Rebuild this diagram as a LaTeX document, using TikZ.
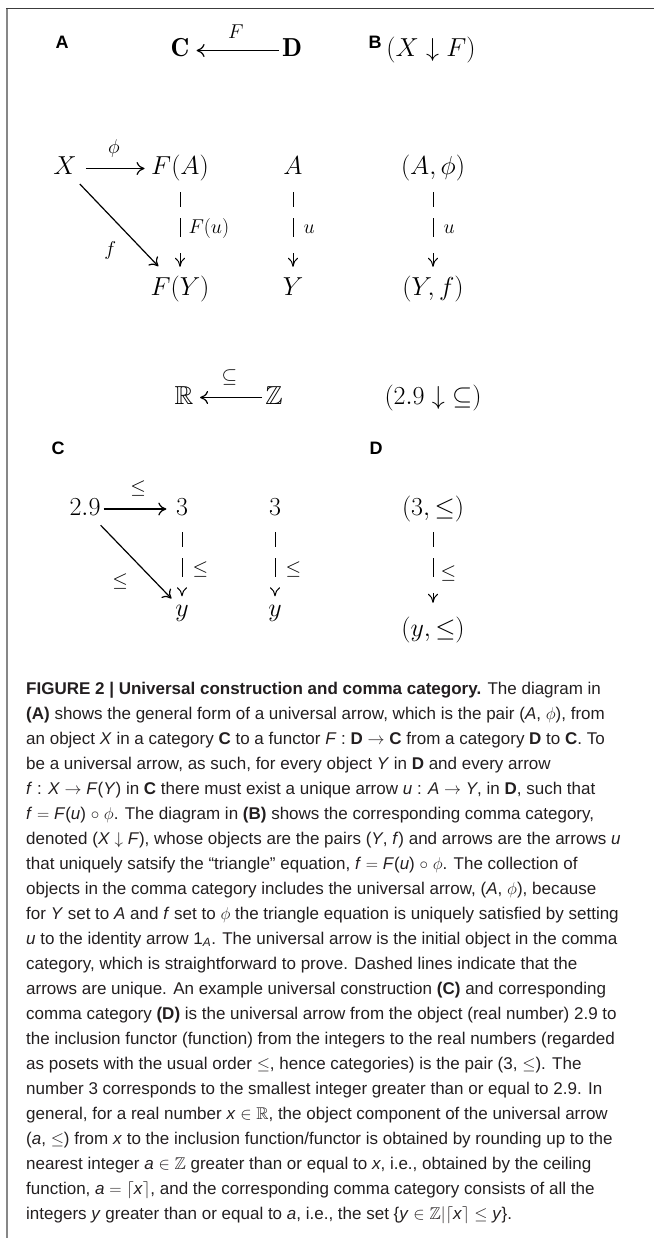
\documentclass[tikz,border=0pt]{standalone}
\usepackage{fix-cm}
\usepackage{amsmath,amssymb}
\usepackage{fontspec}
\usetikzlibrary{arrows.meta,positioning}
\newfontfamily\capfont{Liberation Sans}
\definecolor{framedark}{RGB}{60,60,60}
\definecolor{framegray}{RGB}{135,135,135}
\definecolor{capink}{RGB}{35,31,32}
\tikzset{
    obj/.style={
        anchor=base,inner sep=3pt,font=\fontsize{26}{31}\selectfont,
        text height=19.5pt,text depth=6.5pt
    },
    lbl/.style={
        inner sep=2pt,font=\fontsize{20}{24}\selectfont
    },
    panel/.style={
        inner sep=0pt,font=\capfont\bfseries\fontsize{18}{20}\selectfont
    },
    arr/.style={
        -{Computer Modern Rightarrow[length=8pt,width=13pt]},line width=1.2pt
    },
    uarr/.style={
        -{Computer Modern Rightarrow[length=9pt,width=10pt]},line width=1pt,
        dash pattern=on 15pt off 11pt on 19pt off 16pt
    }
}

\begin{document}
\begin{tikzpicture}[x=1pt,y=-1pt]
\useasboundingbox (0,0) rectangle (654,1238);

% frame
\draw[framegray,line width=2.2pt] (7,8) -- (7,1238);
\draw[framedark,line width=1.8pt] (6,8.5) -- (654,8.5);

% panels A and B
\node[panel] (pA) at (62,42) {A};
\node[panel] (pB) at (375,42) {B};
\node[obj] (catC) at (180,57) {$\mathbf{C}$};
\node[obj] (catD) at (292,57) {$\mathbf{D}$};
\node[obj] (cXF) at (431,57) {$(X\downarrow F)$};
\draw[arr,shorten >=4pt] (catD) -- node[lbl,above=9pt] (lF) {$F$} (catC);

\node[obj] (X) at (65,175) {$X$};
\node[obj] (FA) at (180,175) {$F(A)$};
\node[obj] (FY) at (180,295.5) {$F(Y)$};
\node[obj] (A) at (293,175) {$A$};
\node[obj] (Y) at (293,295.5) {$Y$};
\node[obj] (Aphi) at (433,175) {$(A,\phi)$};
\node[obj] (Yf) at (433,295.5) {$(Y,f)$};

\draw[arr,shorten <=6pt,shorten >=3.5pt] (X) -- node[lbl,above=9pt] (lphi) {$\phi$} (FA);
\draw[arr,shorten >=9pt] (X) -- node[lbl,pos=0.6,below left=2pt and 12pt] (lf) {$f$} (FY);
\draw[uarr,shorten <=7.5pt,shorten >=6pt] (FA) -- node[lbl,right=6pt] (lFu) {$F(u)$} (FY);
\draw[uarr,shorten <=7.5pt,shorten >=6pt] (A) -- node[lbl,right=8pt] (lu) {$u$} (Y);
\draw[uarr,shorten <=7.5pt,shorten >=6pt] (Aphi) -- node[lbl,right=8pt] (lu2) {$u$} (Yf);

% the example: panels C and D
\node[obj] (setR) at (184,404) {$\mathbb{R}$};
\node[obj] (setZ) at (274,404) {$\mathbb{Z}$};
\node[obj] (c29) at (433,404) {$(2.9\downarrow\;\subseteq)$};
\draw[arr,shorten >=3.5pt] (setZ) -- node[lbl,above=10pt] (lsub) {$\subseteq$} (setR);

\node[panel] (pC) at (58,448) {C};
\node[panel] (pD) at (376,448) {D};

\node[obj] (n29) at (85,515.5) {$2.9$};
\node[obj] (n3) at (182,515.5) {$3$};
\node[obj] (ny) at (182,616) {$y$};
\node[obj] (m3) at (275,515.5) {$3$};
\node[obj] (my) at (275,616) {$y$};
\node[obj] (p3) at (433,515.5) {$(3,\leq)$};
\node[obj] (py) at (433,636.5) {$(y,\leq)$};

\draw[arr,shorten >=6.5pt] (n29) -- node[lbl,above=10pt] (lle) {$\leq$} (n3);
\draw[arr,shorten >=1pt] (n29) -- node[lbl,pos=0.6,below left=2pt and 13pt] (lle2) {$\leq$} (ny);
\draw[uarr,shorten <=7pt,shorten >=-3pt] (n3) -- node[lbl,pos=0.65,right=8pt] (lle3) {$\leq$} (ny);
\draw[uarr,shorten <=7pt,shorten >=-3pt] (m3) -- node[lbl,pos=0.65,right=8pt] (lle4) {$\leq$} (my);
\draw[uarr,shorten <=7pt,shorten >=11pt] (p3) -- node[lbl,pos=0.55,right=5pt] (lle5) {$\leq$} (py);

% caption
\node[anchor=north west,inner sep=0pt,align=left,text=capink,
      font=\capfont\fontsize{17}{25}\selectfont] (cap) at (26,676.5) {%
\strut\textbf{FIGURE 2 | Universal construction and comma category.} The diagram in\\
\textbf{(A)} shows the general form of a universal arrow, which is the pair (\textit{A}, $\phi$), from\\
an object \textit{X} in a category \textbf{C} to a functor \textit{F} : \textbf{D} $\rightarrow$ \textbf{C} from a category \textbf{D} to \textbf{C}. To\\
be a universal arrow, as such, for every object \textit{Y} in \textbf{D} and every arrow\\
\textit{f} : \textit{X} $\rightarrow$ \textit{F}(\textit{Y}) in \textbf{C} there must exist a unique arrow \textit{u} : \textit{A} $\rightarrow$ \textit{Y}, in \textbf{D}, such that\\
\textit{f} $=$ \textit{F}(\textit{u}) $\circ$ $\phi$. The diagram in \textbf{(B)} shows the corresponding comma category,\\
denoted (\textit{X} $\downarrow$ \textit{F}), whose objects are the pairs (\textit{Y}, \textit{f}) and arrows are the arrows \textit{u}\\
that uniquely satsify the “triangle” equation, \textit{f} $=$ \textit{F}(\textit{u}) $\circ$ $\phi$. The collection of\\
objects in the comma category includes the universal arrow, (\textit{A}, $\phi$), because\\
for \textit{Y} set to \textit{A} and \textit{f} set to $\phi$ the triangle equation is uniquely satisfied by setting\\
\textit{u} to the identity arrow 1\textsubscript{\textit{A}}. The universal arrow is the initial object in the comma\\
category, which is straightforward to prove. Dashed lines indicate that the\\
arrows are unique. An example universal construction \textbf{(C)} and corresponding\\
comma category \textbf{(D)} is the universal arrow from the object (real number) 2.9 to\\
the inclusion functor (function) from the integers to the real numbers (regarded\\
as posets with the usual order $\leq$, hence categories) is the pair (3, $\leq$). The\\
number 3 corresponds to the smallest integer greater than or equal to 2.9. In\\
general, for a real number \textit{x} $\in \mathbb{R}$, the object component of the universal arrow\\
(\textit{a}, $\leq$) from \textit{x} to the inclusion function/functor is obtained by rounding up to the\\
nearest integer \textit{a} $\in \mathbb{Z}$ greater than or equal to \textit{x}, i.e., obtained by the ceiling\\
function, \textit{a} $=$ $\lceil$\textit{x}$\rceil$, and the corresponding comma category consists of all the\\
integers \textit{y} greater than or equal to \textit{a}, i.e., the set \{\textit{y} $\in \mathbb{Z}|\lceil$\textit{x}$\rceil \leq$ \textit{y}\}.};
\end{tikzpicture}
\end{document}
